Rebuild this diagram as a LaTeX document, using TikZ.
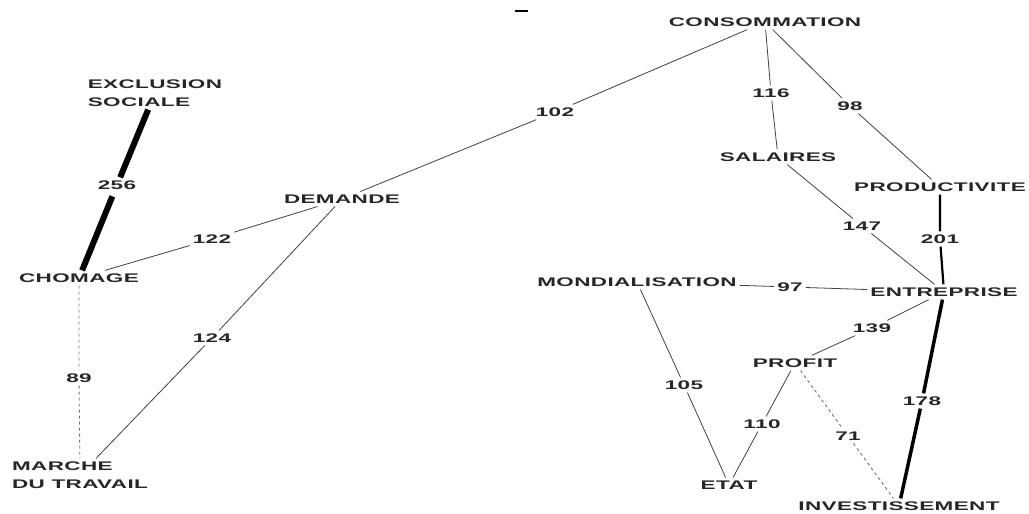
\documentclass[tikz,border=0pt]{standalone}
\usepackage{fontspec}
\newfontfamily\labfont[FakeStretch=1.8,LetterSpace=3]{Liberation Sans Bold}
\begin{document}
\begin{tikzpicture}[x=1pt,y=-1pt,
  concept/.style={font=\labfont\fontsize{12.5pt}{18pt}\selectfont, inner sep=3pt, text=black!85},
  num/.style={font=\labfont\fontsize{12.5pt}{14pt}\selectfont, inner sep=3pt, text=black!85},
  link/.style={draw=black!75, line width=0.8pt},
  weak/.style={draw=black!55, line width=0.9pt, dash pattern=on 3pt off 3pt},
  strong/.style={draw=black, line width=#1},
  ]
\useasboundingbox (0,0) rectangle (1029,514);
% concepts
\node[concept] (cons) at (765,22) {CONSOMMATION};
\node[concept, align=left] (excl) at (155,93) {EXCLUSION\\SOCIALE};
\node[concept] (chom) at (79,278) {CHOMAGE};
\node[concept] (dem) at (342,199) {DEMANDE};
\node[concept, align=left] (marche) at (80,475) {MARCHE\\DU TRAVAIL};
\node[concept] (sal) at (778,157) {SALAIRES};
\node[concept] (prod) at (940,187) {PRODUCTIVITE};
\node[concept] (mond) at (637,282) {MONDIALISATION};
\node[concept] (ent) at (944,292) {ENTREPRISE};
\node[concept] (prof) at (795,363) {PROFIT};
\node[concept] (etat) at (729,485) {ETAT};
\node[concept] (inv) at (899,506) {INVESTISSEMENT};
% weights
\node[num] (l102) at (555,112) {102};
\node[num] (l256) at (117,185) {256};
\node[num] (l122) at (212,239) {122};
\node[num] (l124) at (212,338) {124};
\node[num] (l89) at (79,378) {89};
\node[num] (l116) at (771,93) {116};
\node[num] (l98) at (850,106) {98};
\node[num] (l147) at (862,226) {147};
\node[num] (l201) at (940,239) {201};
\node[num] (l97) at (790,287) {97};
\node[num] (l139) at (872,328) {139};
\node[num] (l105) at (684,385) {105};
\node[num] (l110) at (762,424) {110};
\node[num] (l71) at (848,436) {71};
\node[num] (l178) at (922,401) {178};
% connectors
\draw[link] (cons) -- (l102) -- (dem);
\draw[strong=6pt, shorten <=4pt] (excl) -- (l256) -- (chom);
\draw[link] (chom) -- (l122) -- (dem);
\draw[link] (dem) -- (l124) -- (marche);
\draw[weak] (chom) -- (l89) -- (marche);
\draw[link] (cons) -- (l116) -- (sal);
\draw[link] (cons) -- (l98) -- (prod);
\draw[link] (sal) -- (l147) -- (ent);
\draw[strong=2.2pt] (prod) -- (l201) -- (ent);
\draw[link] (mond) -- (l97) -- (ent);
\draw[link] (ent) -- (l139) -- (prof);
\draw[strong=3.5pt] (ent) -- (l178) -- (inv);
\draw[link] (mond) -- (l105) -- (etat);
\draw[link] (prof) -- (l110) -- (etat);
\draw[weak] (prof) -- (l71) -- (inv);
% stray mark at the top
\draw[line width=1.5pt] (515,11) -- (528,11);
\end{tikzpicture}
\end{document}
